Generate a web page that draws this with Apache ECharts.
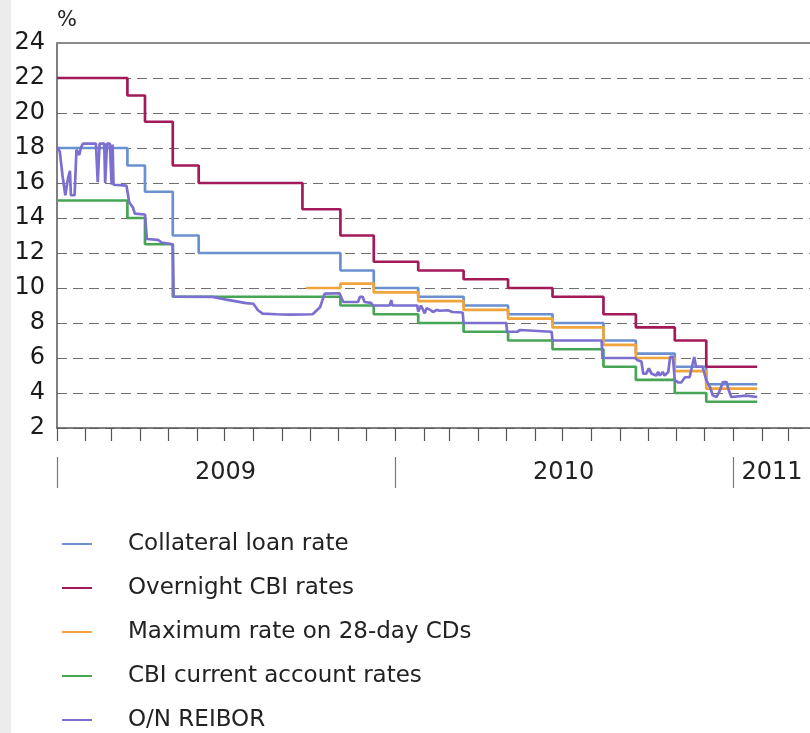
<!DOCTYPE html>
<html>
<head>
<meta charset="utf-8">
<script src="https://cdn.jsdelivr.net/npm/echarts@6/dist/echarts.min.js"></script>
<style>
  html, body { margin: 0; padding: 0; }
  #chart { width: 810px; height: 733px; background: linear-gradient(to right, #ececec 11px, #ffffff 11px); }
</style>
</head>
<body>
<div id="chart"></div>
<script>
// ---------------- data ----------------
const xStart = '2009-01-01';
const xEnd = '2011-03-25';
const yTicks = { min: 2, max: 24, step: 2 };
const yearLabels = ['2009', '2010', '2011'];
const yearLabelDates = ['2009-07-02', '2010-07-02', '2011-02-12'];
const yearStartDates = ['2009-01-01', '2010-01-01', '2011-01-01'];

const collateralDates = ['2009-01-01','2009-03-18','2009-04-06','2009-05-06','2009-06-03','2009-11-03','2009-12-09','2010-01-26','2010-03-16','2010-05-03','2010-06-20','2010-08-14','2010-09-18','2010-10-30','2010-12-03','2011-01-27'];
const collateralValues = [18, 17, 15.5, 13, 12, 11, 10, 9.5, 9, 8.5, 8, 7, 6.25, 5.5, 4.5, 4.5];

const overnightDates = ['2009-01-01','2009-03-18','2009-04-06','2009-05-06','2009-06-03','2009-09-23','2009-11-03','2009-12-09','2010-01-26','2010-03-16','2010-05-03','2010-06-20','2010-08-14','2010-09-18','2010-10-30','2010-12-03','2011-01-27'];
const overnightValues = [22, 21, 19.5, 17, 16, 14.5, 13, 11.5, 11, 10.5, 10, 9.5, 8.5, 7.75, 7, 5.5, 5.5];

const cdDates = ['2009-09-27','2009-11-03','2009-12-09','2010-01-26','2010-03-16','2010-05-03','2010-06-20','2010-08-14','2010-09-18','2010-10-30','2010-12-03','2011-01-27'];
const cdValues = [10, 10.25, 9.75, 9.25, 8.75, 8.25, 7.75, 6.75, 6, 5.25, 4.25, 4.25];

const currentDates = ['2009-01-01','2009-03-18','2009-04-06','2009-05-06','2009-11-03','2009-12-09','2010-01-26','2010-03-16','2010-05-03','2010-06-20','2010-08-14','2010-09-18','2010-10-30','2010-12-03','2011-01-27'];
const currentValues = [15, 14, 12.5, 9.5, 9, 8.5, 8, 7.5, 7, 6.5, 5.5, 4.75, 4, 3.5, 3.5];

const reiborDates = [
  '2009-01-01','2009-01-04','2009-01-07','2009-01-10','2009-01-13','2009-01-15','2009-01-16','2009-01-20','2009-01-22','2009-01-25','2009-01-27','2009-01-29',
  '2009-02-12','2009-02-14','2009-02-16','2009-02-21','2009-02-22','2009-02-24','2009-02-27','2009-03-01','2009-03-02','2009-03-03','2009-03-17',
  '2009-03-20','2009-03-24','2009-03-26','2009-04-06','2009-04-08','2009-04-20','2009-04-24','2009-05-06','2009-05-07',
  '2009-06-18','2009-07-03','2009-07-24','2009-08-01','2009-08-06','2009-08-11','2009-08-26','2009-09-09','2009-10-04','2009-10-06','2009-10-12','2009-10-17',
  '2009-11-02','2009-11-06','2009-11-22','2009-11-24','2009-11-27','2009-11-29','2009-12-06','2009-12-08','2009-12-26','2009-12-28','2009-12-29',
  '2010-01-25','2010-01-26','2010-01-29','2010-02-02','2010-02-04','2010-02-08','2010-02-11','2010-02-15','2010-02-18','2010-02-27','2010-03-04','2010-03-15','2010-03-16',
  '2010-05-01','2010-05-02','2010-05-13','2010-05-16','2010-05-18','2010-06-19','2010-06-20','2010-07-26','2010-07-28','2010-07-31','2010-08-12','2010-08-13',
  '2010-09-17','2010-09-20','2010-09-24','2010-09-26','2010-09-29','2010-10-02','2010-10-05','2010-10-10','2010-10-12','2010-10-14','2010-10-17','2010-10-19','2010-10-23',
  '2010-10-25','2010-10-28','2010-10-30','2010-11-03','2010-11-06','2010-11-10','2010-11-15','2010-11-20','2010-11-22','2010-11-29',
  '2010-12-03','2010-12-07','2010-12-10','2010-12-14','2010-12-17','2010-12-21','2010-12-25','2010-12-27','2010-12-30','2011-01-15','2011-01-17','2011-01-27'
];
const reiborValues = [
  18.05, 17.8, 16.4, 15.3, 16.3, 16.7, 15.3, 15.3, 17.9, 17.6, 18.05, 18.25,
  18.25, 16.05, 18.25, 18.25, 16.0, 18.25, 18.25, 15.9, 18.2, 15.9, 15.85,
  14.9, 14.6, 14.25, 14.2, 12.8, 12.75, 12.6, 12.5, 9.5,
  9.49, 9.34, 9.14, 9.1, 8.73, 8.54, 8.5, 8.48, 8.5, 8.45, 8.9, 9.68,
  9.7, 9.2, 9.2, 9.49, 9.5, 9.2, 9.15, 9.0, 9.0, 9.3, 9.0,
  9.0, 8.65, 9.0, 8.55, 8.85, 8.75, 8.63, 8.75, 8.7, 8.73, 8.63, 8.6, 8.0,
  8.0, 7.5, 7.5, 7.6, 7.5, 7.5, 7.0, 7.0, 7.1, 7.0, 7.0, 6.0,
  6.0, 5.87, 5.8, 5.1, 5.1, 5.4, 5.1, 5.0, 5.2, 5.0, 5.2, 5.0, 5.2,
  6.06, 6.06, 4.73, 4.6, 4.6, 4.9, 4.9, 6.06, 5.5, 5.5,
  4.73, 4.34, 3.87, 3.77, 4.06, 4.63, 4.63, 4.2, 3.77, 3.85, 3.77, 3.77
];

// ---------------- chart ----------------
const FONT = 'DejaVu Sans';
const toTime = s => { const p = s.split('-').map(Number); return Date.UTC(p[0], p[1] - 1, p[2]); };
const pairs = (d, v) => d.map((x, i) => [toTime(x), v[i]]);
const X_MIN = toTime(xStart), X_MAX = toTime(xEnd);

const monthTicks = [];
for (let y = 2009; y <= 2011; y++) {
  for (let m = 0; m < 12; m++) {
    const t = Date.UTC(y, m, 1);
    if (t <= X_MAX) monthTicks.push(t);
  }
}
const yearLabelTimes = yearLabelDates.map(toTime);

const chart = echarts.init(document.getElementById('chart'), null, { renderer: 'canvas' });

const LW = 2.7;
const stepSeries = (name, color, d, v) => ({
  name, type: 'line', step: 'end', symbol: 'none', showSymbol: false,
  data: pairs(d, v), lineStyle: { color, width: LW }, itemStyle: { color },
  xAxisIndex: 0, yAxisIndex: 0, animation: false
});

chart.setOption({
  animation: false,
  grid: { left: 57, top: 43, right: 0, bottom: 305, containLabel: false },
  xAxis: [
    {
      type: 'value', min: X_MIN, max: X_MAX, position: 'bottom',
      axisLine: { show: true, onZero: false, lineStyle: { color: '#555', width: 1.5 } },
      axisTick: { show: true, length: 13, inside: false, customValues: monthTicks, lineStyle: { color: '#555', width: 1.2 } },
      axisLabel: { show: false },
      splitLine: { show: false }
    },
    {
      type: 'value', min: X_MIN, max: X_MAX, position: 'bottom', offset: 29,
      axisLine: { show: false, onZero: false },
      axisTick: { show: true, length: 31, customValues: yearStartDates.map(toTime), lineStyle: { color: '#777', width: 1.2 } },
      axisLabel: {
        show: true, customValues: yearLabelTimes, margin: 4,
        fontFamily: FONT, fontSize: 24, color: '#222',
        formatter: (val) => {
          const i = yearLabelTimes.indexOf(val);
          return i >= 0 ? yearLabels[i] : '';
        }
      },
      splitLine: { show: false }
    },
    {
      type: 'value', min: X_MIN, max: X_MAX, position: 'top',
      axisLine: { show: true, onZero: false, lineStyle: { color: '#8a8a8a', width: 2 } },
      axisTick: { show: false }, axisLabel: { show: false }, splitLine: { show: false }
    }
  ],
  yAxis: {
    type: 'value', min: yTicks.min, max: yTicks.max, interval: yTicks.step,
    name: '%', nameLocation: 'end', nameGap: 12,
    nameTextStyle: { fontFamily: FONT, fontSize: 21, color: '#222', align: 'left', padding: [0, 0, 0, 0] },
    axisLine: { show: true, lineStyle: { color: '#555', width: 1.5 } },
    axisTick: { show: false },
    axisLabel: { fontFamily: FONT, fontSize: 24, color: '#1a1a1a', margin: 12 },
    splitLine: { show: true, lineStyle: { color: '#6f6f6f', width: 1, type: [10, 6] } }
  },
  legend: {
    orient: 'vertical', left: 62, top: 531, height: 204, padding: 0,
    icon: 'rect', itemWidth: 30, itemHeight: 2, itemGap: 18,
    selectedMode: false,
    textStyle: { fontFamily: FONT, fontSize: 23, color: '#222', padding: [0, 0, 0, 31], lineHeight: 26 },
    data: ['Collateral loan rate', 'Overnight CBI rates', 'Maximum rate on 28-day CDs', 'CBI current account rates', 'O/N REIBOR']
  },
  series: [
    stepSeries('Collateral loan rate', '#6a90cf', collateralDates, collateralValues),
    stepSeries('Overnight CBI rates', '#a31a5a', overnightDates, overnightValues),
    stepSeries('Maximum rate on 28-day CDs', '#f0a53c', cdDates, cdValues),
    stepSeries('CBI current account rates', '#47a555', currentDates, currentValues),
    {
      name: 'O/N REIBOR', type: 'line', symbol: 'none', showSymbol: false,
      data: pairs(reiborDates, reiborValues),
      lineStyle: { color: '#7b6fcf', width: LW }, itemStyle: { color: '#7b6fcf' },
      xAxisIndex: 0, yAxisIndex: 0, animation: false
    }
  ]
});
</script>
</body>
</html>
